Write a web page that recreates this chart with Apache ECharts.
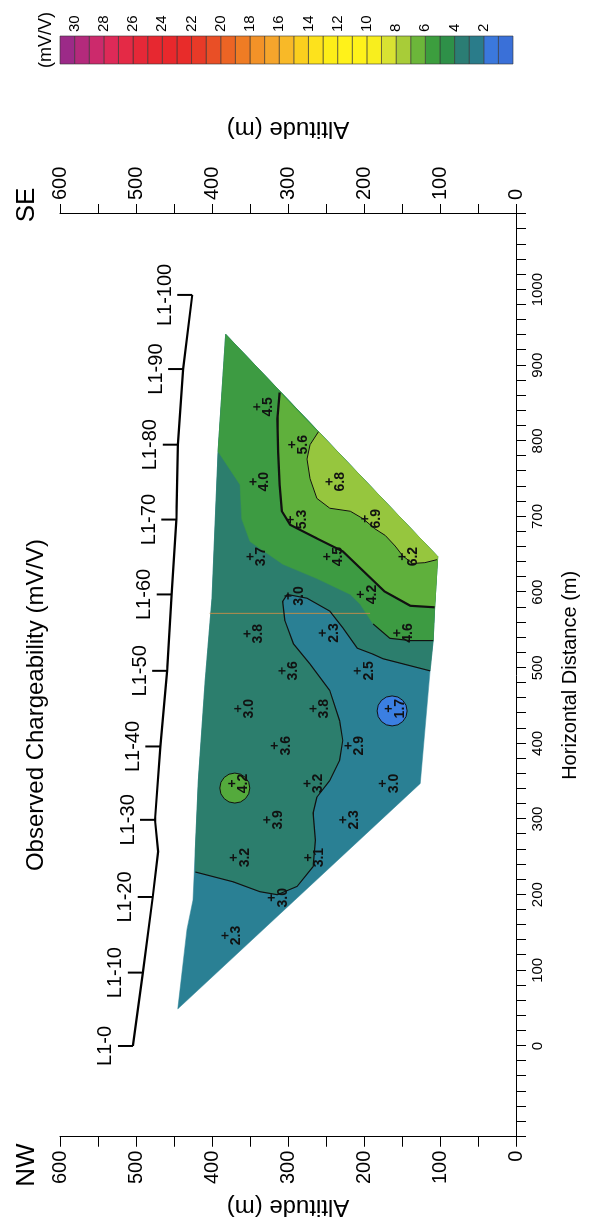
<!DOCTYPE html>
<html>
<head>
<meta charset="utf-8">
<script src="https://cdn.jsdelivr.net/npm/echarts@6/dist/echarts.min.js"></script>
<style>
html, body { margin: 0; padding: 0; width: 592px; height: 1227px; overflow: hidden; background: #fff; }
/* the figure is printed on its side: draw it landscape, then turn it */
#wrap { position: absolute; left: 0; top: 0; width: 1227px; height: 592px;
  transform-origin: 0 0; transform: translateY(1227px) rotate(-90deg); }
#chart { width: 1227px; height: 592px; }
</style>
</head>
<body>
<div id="wrap"><div id="chart"></div></div>
<script>
const FONT = 'Liberation Sans, Arial, sans-serif'

// measured points: horizontal distance (m), altitude (m), chargeability (mV/V)
const ptDist = [146, 196, 249, 249, 299, 299, 347, 347, 347, 397, 397, 446, 446, 446, 496, 496, 545, 546, 546, 595, 597, 647, 647, 647, 696, 697, 746, 746, 795, 845]
const ptAlt = [383, 322, 372, 274, 328, 228, 374, 275, 176, 318, 221, 366, 267, 168, 308, 209, 354, 255, 157, 300, 205, 350, 249, 150, 297, 199, 346, 246, 295, 341]
const ptVal = [2.3, 3.0, 3.2, 3.1, 3.9, 2.3, 4.2, 3.2, 3.0, 3.6, 2.9, 3.0, 3.8, 1.7, 3.6, 2.5, 3.8, 2.3, 4.6, 3.0, 4.2, 3.7, 4.5, 6.2, 5.3, 6.9, 4.0, 6.8, 5.6, 4.5]

// topography along line L1
const stationName = ['L1-0', 'L1-10', 'L1-20', 'L1-30', 'L1-40', 'L1-50', 'L1-60', 'L1-70', 'L1-80', 'L1-90', 'L1-100']
const stationDist = [0, 97, 197, 299, 396, 496, 597, 696, 795, 895, 993]
const stationAlt = [504, 491, 478, 475, 468, 459, 453, 447, 445, 438, 426]
const topoDist = [0, 97, 197, 257, 299, 396, 496, 597, 696, 795, 895, 993]
const topoAlt = [504, 491, 478, 471, 475, 468, 459, 453, 447, 445, 438, 426]

// edge of the gridded section
const leftEdge = [[941, 382], [786, 392], [592, 400], [483, 409], [351, 418], [259, 422], [193, 425], [154, 433], [49, 445]]
const rightEdge = [[347, 126], [496, 113], [536, 109], [580, 107], [647, 103]]

// contour lines (distance, altitude)
const contour3 = [[230, 422], [217, 372], [204, 337], [200, 314], [211, 288], [237, 267], [272, 264], [308, 267], [329, 262], [351, 245], [378, 232], [404, 228], [430, 232], [470, 245], [505, 271], [532, 293], [562, 304], [588, 307], [597, 301], [592, 275], [575, 245], [553, 228], [526, 209], [518, 188], [512, 175], [496, 113]]
const contour4 = [[786, 392], [742, 363], [697, 361], [667, 350], [637, 307], [618, 262], [597, 218], [584, 205], [558, 188], [539, 166], [536, 139], [536, 109]]
const contour5 = [[864, 311], [829, 314], [786, 313], [742, 311], [707, 308], [689, 297], [671, 262], [654, 228], [628, 201], [601, 173], [582, 139], [580, 107]]
const contour6 = [[812, 260], [795, 271], [776, 275], [750, 271], [724, 262], [711, 245], [707, 218], [697, 201], [684, 186], [675, 172], [661, 159], [648, 149], [638, 136], [639, 120], [643, 104]]

// closed highs / lows
const lowCircle = [[443, 163]]
const highCircle = [[341, 370]]
const contourLabel = [[430, 232, '3'], [558, 181, '4'], [620, 180, '5'], [522, 195, '5']]
const markerLine = [[572, 192], [572, 403]]

// colour scale (mV/V), one cell per unit from 0 up to 31
const cbLow = [0, 1, 2, 3, 4, 5, 6, 7, 8, 9, 10, 11, 12, 13, 14, 15, 16, 17, 18, 19, 20, 21, 22, 23, 24, 25, 26, 27, 28, 29, 30]
const cbColors = ['#3a70d8', '#3b78dc', '#2a7c8a', '#2b7d74', '#2e9048', '#3c9e3e', '#6cb63a', '#a8cc38', '#d8e232', '#f8ee1e',
  '#fff21a', '#fff21a', '#fdee18', '#fde21c', '#fbcf1e', '#f8b928', '#f5a52c', '#f29228', '#ef7c24', '#ec6424',
  '#e94f26', '#e83a28', '#e82c2a', '#e8282c', '#e72830', '#e62838', '#e42a46', '#de2a58', '#cc2a6c', '#b42a7c', '#9c2a88']

// fill colours of the plotted bands
const fill23 = '#2a8094'
const fill34 = '#2c7e6d'
const fill45 = '#3d9b42'
const fill56 = '#5fb03c'
const fill67 = '#96c63e'

const chart = echarts.init(document.getElementById('chart'))

function region (pts, color, z) {
  return {
    type: 'custom', xAxisIndex: 0, yAxisIndex: 0, z: z, silent: true,
    data: [pts[0]],
    renderItem: function (params, api) {
      return {
        type: 'polygon',
        shape: { points: pts.map(p => api.coord(p)) },
        style: { fill: color, stroke: color, lineWidth: 0.5 }
      }
    }
  }
}

function contourLine (pts, width, z) {
  return {
    type: 'line', data: pts, symbol: 'none', silent: true, z: z,
    lineStyle: { color: '#111', width: width }
  }
}

function altAxis (pos, gap) {
  return {
    type: 'value', gridIndex: 0, position: pos, min: 0, max: 600, interval: 50,
    axisLine: { show: true, onZero: false, lineStyle: { color: '#000' } },
    axisTick: { show: true, length: 10, lineStyle: { color: '#000' } },
    axisLabel: { fontSize: 20, color: '#000', margin: 14, fontFamily: FONT, formatter: v => v % 100 === 0 ? String(v) : '' },
    splitLine: { show: false },
    name: 'Altitude (m)', nameLocation: 'middle', nameGap: gap, nameRotate: 90,
    nameTextStyle: { fontSize: 24, color: '#000', fontFamily: FONT }
  }
}

const outline = leftEdge.concat(rightEdge)
const band3 = contour3.concat([[536, 109], [580, 107], [647, 103], [941, 382], [786, 392], [592, 400], [483, 409], [351, 418], [259, 422]])
const band4 = contour4.concat([[580, 107], [647, 103], [941, 382]])
const band5 = contour5.concat([[647, 103]])
const band6 = contour6.concat([[647, 103]])

const plusPath = 'path://M4,0H6V4H10V6H6V10H4V6H0V4H4Z'

const option = {
  backgroundColor: '#fff',
  animation: false,
  textStyle: { fontFamily: FONT },
  grid: [
    { left: 85, right: 214, top: 60, bottom: 76 },
    { left: 1163, width: 28, top: 60, height: 453 }
  ],
  xAxis: [
    {
      type: 'value', gridIndex: 0, min: -120, max: 1100, interval: 20,
      axisLine: { show: true, onZero: false, lineStyle: { color: '#000', width: 1 } },
      axisTick: { show: true, length: 10, lineStyle: { color: '#000' } },
      axisLabel: {
        interval: 0, fontSize: 15, color: '#000', margin: 14, fontFamily: FONT,
        formatter: v => (v % 100 === 0 && v >= 0 && v <= 1000) ? String(v) : ''
      },
      splitLine: { show: false },
      name: 'Horizontal Distance (m)', nameLocation: 'middle', nameGap: 44,
      nameTextStyle: { fontSize: 20, color: '#000', fontFamily: FONT }
    },
    { type: 'value', gridIndex: 1, min: 0, max: 1, show: false }
  ],
  yAxis: [
    altAxis('left', 50),
    altAxis('right', 73),
    {
      type: 'value', gridIndex: 1, position: 'right', min: 0, max: 31, interval: 2,
      axisLine: { show: false }, axisTick: { show: false }, splitLine: { show: false },
      axisLabel: { fontSize: 15, color: '#000', margin: 4, fontFamily: FONT, formatter: v => (v > 0 && v <= 30) ? String(v) : '' }
    }
  ],
  graphic: [
    { type: 'text', x: 522, y: 36, style: { text: 'Observed Chargeability (mV/V)', font: '24px ' + FONT, fill: '#000', align: 'center', verticalAlign: 'middle' } },
    { type: 'text', x: 62, y: 27, style: { text: 'NW', font: '26px ' + FONT, fill: '#000', align: 'center', verticalAlign: 'middle' } },
    { type: 'text', x: 1022, y: 27, style: { text: 'SE', font: '26px ' + FONT, fill: '#000', align: 'center', verticalAlign: 'middle' } },
    { type: 'text', x: 1187, y: 46, style: { text: '(mV/V)', font: '18px ' + FONT, fill: '#000', align: 'center', verticalAlign: 'middle' } }
  ],
  series: [
    region(outline, fill23, 1),
    region(band3, fill34, 2),
    region(band4, fill45, 3),
    region(band5, fill56, 4),
    region(band6, fill67, 5),
    {
      type: 'scatter', data: lowCircle, symbolSize: 30, z: 6, silent: true,
      itemStyle: { color: '#3b7fe2', borderColor: '#111', borderWidth: 1, opacity: 1 }
    },
    {
      type: 'scatter', data: highCircle, symbolSize: 30, z: 6, silent: true,
      itemStyle: { color: '#54aa3c', borderColor: '#111', borderWidth: 1, opacity: 1 }
    },
    { type: 'line', data: markerLine, symbol: 'none', silent: true, z: 7, lineStyle: { color: '#b98c4c', width: 1 } },
    contourLine(contour3, 1.2, 8),
    contourLine(contour4.slice(8), 1.2, 8),
    contourLine(contour5, 2.2, 8),
    contourLine(contour6, 1, 8),
    { type: 'line', data: topoDist.map((d, i) => [d, topoAlt[i]]), symbol: 'none', silent: true, z: 9, lineStyle: { color: '#000', width: 2.2 } },
    {
      type: 'custom', xAxisIndex: 0, yAxisIndex: 0, z: 9, silent: true,
      data: stationDist.map((d, i) => [d, stationAlt[i]]),
      renderItem: function (params, api) {
        const p = api.coord([api.value(0), api.value(1)])
        return {
          type: 'group',
          children: [
            { type: 'line', shape: { x1: p[0], y1: p[1], x2: p[0], y2: p[1] - 15 }, style: { stroke: '#000', lineWidth: 2 } },
            { type: 'text', x: p[0], y: p[1] - 17, style: { text: stationName[params.dataIndex], font: '20px ' + FONT, fill: '#000', align: 'center', verticalAlign: 'bottom' } }
          ]
        }
      }
    },
    {
      type: 'scatter', z: 10, silent: true,
      data: ptDist.map((d, i) => [d, ptAlt[i], ptVal[i]]),
      symbol: plusPath, symbolSize: 7,
      itemStyle: { color: '#111', opacity: 1 },
      label: { show: true, position: 'bottom', distance: 1, formatter: p => p.value[2].toFixed(1), fontSize: 14, fontWeight: 'bold', color: '#111', fontFamily: FONT }
    },
    {
      type: 'scatter', z: 10, silent: true,
      data: contourLabel, symbolSize: 1,
      itemStyle: { opacity: 0 },
      label: { show: true, position: 'inside', formatter: p => p.value[2], fontSize: 14, fontWeight: 'bold', color: '#111', fontFamily: FONT }
    },
    {
      type: 'custom', xAxisIndex: 1, yAxisIndex: 2, silent: true,
      data: cbLow.map(v => [v, v + 1]),
      renderItem: function (params, api) {
        const a = api.coord([0, api.value(1)])
        const b = api.coord([1, api.value(0)])
        return {
          type: 'rect',
          shape: { x: a[0], y: a[1], width: b[0] - a[0], height: b[1] - a[1] },
          style: { fill: cbColors[params.dataIndex], stroke: '#333', lineWidth: 0.6 }
        }
      }
    }
  ]
}

chart.setOption(option)
</script>
</body>
</html>
